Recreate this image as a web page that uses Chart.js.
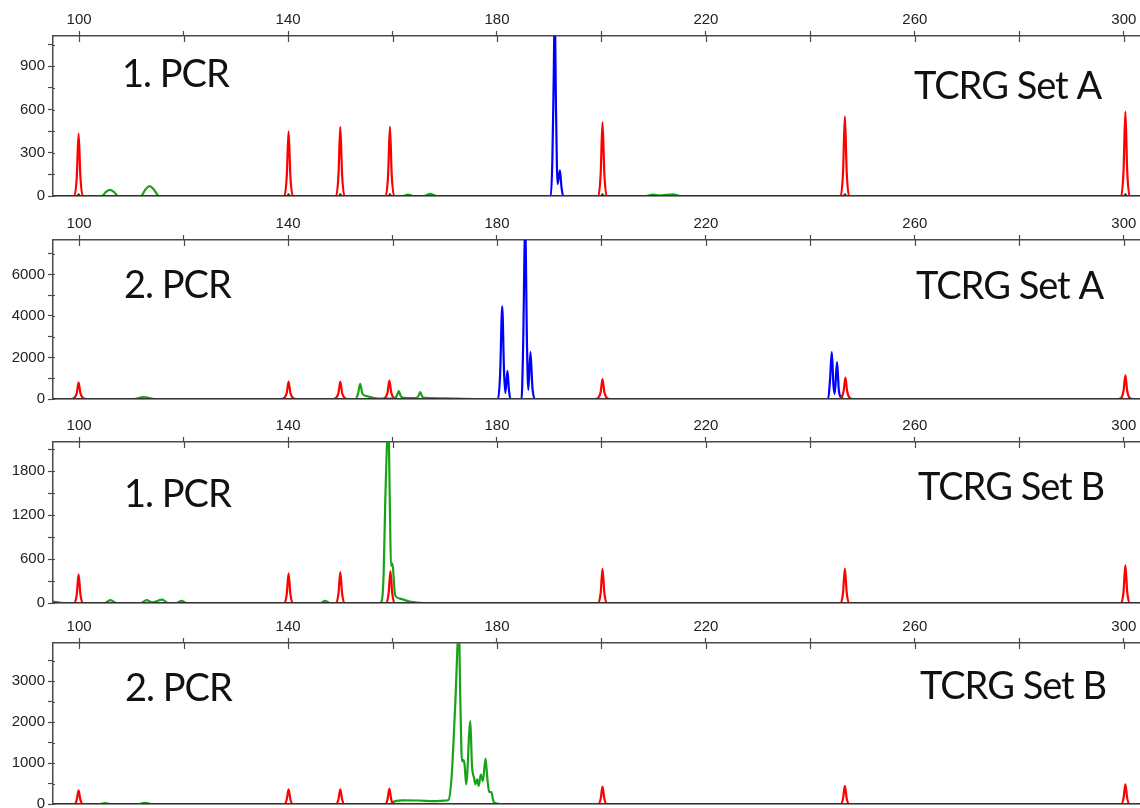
<!DOCTYPE html>
<html><head><meta charset="utf-8">
<script src="https://cdn.jsdelivr.net/npm/chart.js@4.4.1/dist/chart.umd.min.js"></script>
<style>
html,body{margin:0;padding:0;background:#fff;width:1140px;height:808px;overflow:hidden;}
.panel{position:absolute;left:0;width:1140px;}
canvas{display:block;}
</style></head><body>
<div class="panel" style="top:0px"><canvas id="c1" width="1140" height="208"></canvas></div>
<div class="panel" style="top:204px"><canvas id="c2" width="1140" height="207"></canvas></div>
<div class="panel" style="top:406px"><canvas id="c3" width="1140" height="209"></canvas></div>
<div class="panel" style="top:607px"><canvas id="c4" width="1140" height="209"></canvas></div>
<script>
// ---- tick labels ----
const xTickLabels = [100, 140, 180, 220, 260, 300];
const xRange = [95, 303.1];
const p1YLabels = [0, 300, 600, 900];
const p2YLabels = [0, 2000, 4000, 6000];
const p3YLabels = [0, 600, 1200, 1800];
const p4YLabels = [0, 1000, 2000, 3000];
const yMaxes = [1110, 7660, 2198, 3928];
const pcrTitles = ['1. PCR', '2. PCR', '1. PCR', '2. PCR'];
const setTitles = ['TCRG Set A', 'TCRG Set A', 'TCRG Set B', 'TCRG Set B'];

// ---- panel 1: 1. PCR, TCRG Set A ----
const p1Red = [[95,0],[99.1,0],[99.55,130],[99.9,433],[100.25,130],[100.7,0],
  [139.3,0],[139.75,135],[140.1,449],[140.45,135],[140.9,0],
  [149.2,0],[149.65,144],[150.0,479],[150.35,144],[150.8,0],
  [158.7,0],[159.15,144],[159.5,481],[159.85,144],[160.3,0],
  [199.4,0],[199.85,154],[200.2,513],[200.55,154],[201.0,0],
  [245.8,0],[246.25,166],[246.6,553],[246.95,166],[247.4,0],
  [299.5,0],[299.95,176],[300.3,585],[300.65,176],[301.1,0],[303.1,0]];
const p1Green = [[95,0],[104.3,0],[105.2,30],[105.9,43],[106.6,30],[107.5,0],
  [111.8,0],[112.7,45],[113.5,68],[114.3,45],[115.3,0],
  [162,0],[163,10],[164,0],[166,0],[167.2,15],[168.5,0],
  [208.5,0],[209.9,10],[211,3],[213.7,12],[215,0],[303.1,0]];
const p1Blue = [[95,0],[190.3,0],[190.6,250],[190.85,800],[191.05,1300],[191.3,600],[191.6,83],
  [192.05,178],[192.35,60],[192.7,0],[303.1,0]];
const p1Black = [[95,0],[99.6,0],[99.9,12],[100.2,0],[139.8,0],[140.1,12],[140.4,0],
  [149.7,0],[150.0,12],[150.3,0],[159.2,0],[159.5,12],[159.8,0],[199.9,0],[200.2,12],[200.5,0],
  [246.3,0],[246.6,12],[246.9,0],[300.0,0],[300.3,12],[300.6,0],[303.1,0]];

// ---- panel 2: 2. PCR, TCRG Set A ----
const p2Red = [[95,0],[98.4,0],[99.1,60],[99.55,280],[99.9,804],[100.25,280],[100.7,60],[101.4,0],
  [138.6,0],[139.3,60],[139.75,290],[140.1,837],[140.45,290],[140.9,60],[141.6,0],
  [148.5,0],[149.2,60],[149.65,290],[150.0,840],[150.35,290],[150.8,60],[151.5,0],
  [157.9,0],[158.6,60],[159.05,310],[159.4,884],[159.75,310],[160.2,60],[160.9,0],
  [198.7,0],[199.4,60],[199.85,335],[200.2,960],[200.55,335],[201.0,60],[201.7,0],
  [245.2,0],[245.9,60],[246.35,360],[246.7,1026],[247.05,360],[247.5,60],[248.2,0],
  [298.8,0],[299.5,60],[299.95,400],[300.3,1135],[300.65,400],[301.1,60],[301.8,0],[303.1,0]];
const p2Green = [[95,0],[110.5,0],[112.3,90],[114.5,0],
  [152.9,0],[153.4,260],[153.8,724],[154.2,280],[154.7,170],[155.5,110],[156.5,50],[158,20],
  [160.4,30],[160.8,140],[161.2,378],[161.6,130],[162.2,50],[164.5,40],[164.95,140],[165.3,331],
  [165.7,110],[166.5,50],[170,30],[176,0],[303.1,0]];
const p2Blue = [[95,0],[180.2,0],[180.6,1200],[181.0,4459],[181.35,1300],[181.6,284],[182.0,1357],
  [182.3,400],[182.6,0],[184.7,0],[185.0,2500],[185.4,8300],[185.75,2500],[186.0,440],[186.4,2255],
  [186.8,500],[187.3,0],[243.4,0],[243.75,900],[244.1,2255],[244.4,700],[244.65,250],[245.1,1780],
  [245.45,400],[245.9,80],[246.4,0],[303.1,0]];
const p2Black = [[95,0],[303.1,0]];

// ---- panel 3: 1. PCR, TCRG Set B ----
const p3Red = [[95,0],[99.1,0],[99.55,117],[99.9,390],[100.25,117],[100.7,0],
  [139.3,0],[139.75,121],[140.1,404],[140.45,121],[140.9,0],
  [149.2,0],[149.65,127],[150.0,422],[150.35,127],[150.8,0],
  [158.8,0],[159.25,131],[159.6,436],[159.95,131],[160.4,0],
  [199.4,0],[199.85,140],[200.2,467],[200.55,140],[201.0,0],
  [245.8,0],[246.25,141],[246.6,471],[246.95,141],[247.4,0],
  [299.5,0],[299.95,155],[300.3,517],[300.65,155],[301.1,0],[303.1,0]];
const p3Green = [[95,20],[97,0],[104.8,0],[106,40],[107.2,0],[111.8,0],[112.9,40],[114,10],
  [115.9,45],[117,0],[118.6,0],[119.6,30],[120.6,0],[146.2,0],[147.1,30],[148,0],
  [157.5,0],[157.9,20],[158.3,400],[158.6,1360],[159.2,2450],[159.5,1300],[159.7,507],[160.0,538],
  [160.3,250],[160.5,104],[161.4,60],[163.3,20],[166,0],[303.1,0]];
const p3Blue = [[95,0],[303.1,0]];
const p3Black = [[95,0],[303.1,0]];

// ---- panel 4: 2. PCR, TCRG Set B ----
const p4Red = [[95,0],[99.1,0],[99.55,100],[99.9,336],[100.25,100],[100.7,0],
  [139.3,0],[139.75,108],[140.1,360],[140.45,108],[140.9,0],
  [149.2,0],[149.65,108],[150.0,360],[150.35,108],[150.8,0],
  [158.6,0],[159.05,113],[159.4,376],[159.75,113],[160.2,0],
  [199.4,0],[199.85,128],[200.2,425],[200.55,128],[201.0,0],
  [245.8,0],[246.25,133],[246.6,442],[246.95,133],[247.4,0],
  [299.5,0],[299.95,144],[300.3,481],[300.65,144],[301.1,0],[303.1,0]];
const p4Green = [[95,0],[104,0],[105,20],[106,0],[111.5,0],[112.6,30],[113.8,0],
  [159.5,0],[160.5,70],[162,90],[165,85],[168,70],[170.0,80],[170.7,96],[171.3,640],[172.0,2400],
  [172.7,4300],[173.0,2400],[173.3,1040],[173.6,1070],[173.8,960],[174.1,480],[174.9,2020],
  [175.2,960],[175.6,640],[175.9,480],[176.2,600],[176.5,440],[176.9,720],[177.3,560],[177.8,1105],
  [178.2,560],[178.5,300],[178.9,290],[179.4,40],[180.6,0],[303.1,0]];
const p4Blue = [[95,0],[303.1,0]];
const p4Black = [[95,0],[303.1,0]];

// ---- styles ----
const RED = '#ff0000', GREEN = '#16a416', BLUE = '#0000ff', BLACK = '#333333';
const AXIS = '#4a4a4a';
const TICK_FONT = {family: '"Liberation Sans", Arial, sans-serif', size: 15};

const decor = {
  id: 'decor',
  beforeDatasetsDraw(chart, args, o) {
    const {ctx, chartArea: a} = chart;
    const y0 = chart.scales.y.getPixelForValue(0);
    ctx.save();
    ctx.strokeStyle = '#8c8c8c';
    ctx.lineWidth = 2;
    ctx.beginPath(); ctx.moveTo(a.left, y0); ctx.lineTo(a.right, y0); ctx.stroke();
    ctx.restore();
  },
  afterDraw(chart, args, o) {
    const {ctx, chartArea: a} = chart;
    const xs = chart.scales.x, ys = chart.scales.y;
    ctx.save();
    ctx.strokeStyle = AXIS; ctx.lineWidth = 1.2;
    xs.ticks.forEach(t => {
      const px = Math.round(xs.getPixelForValue(t.value)) + 0.5;
      ctx.beginPath(); ctx.moveTo(px, a.top); ctx.lineTo(px, a.top + 6); ctx.stroke();
    });
    ys.ticks.forEach(t => {
      const py = Math.round(ys.getPixelForValue(t.value)) + 0.5;
      ctx.beginPath(); ctx.moveTo(a.left, py); ctx.lineTo(a.left + 2, py); ctx.stroke();
    });
    ctx.fillStyle = '#111';
    ctx.font = '38px Lato';
    ctx.letterSpacing = '-1px';
    ctx.textBaseline = 'alphabetic';
    ctx.textAlign = 'left';
    ctx.fillText(o.pcr, o.pcrX, o.pcrY);
    ctx.fillText(o.set, o.setX, o.setY);
    ctx.restore();
  }
};

function makePanel(id, idx, red, green, blue, black, yLabels, textPos) {
  const yMax = yMaxes[idx];
  const yStep = (yLabels[1] - yLabels[0]) / 2;
  const xStep = (xTickLabels[1] - xTickLabels[0]) / 2;
  new Chart(document.getElementById(id), {
    type: 'line',
    data: {datasets: [
      {data: black, borderColor: BLACK, borderWidth: 1.8, order: 1},
      {data: red, borderColor: RED, order: 2},
      {data: blue, borderColor: BLUE, order: 3},
      {data: green, borderColor: GREEN, order: 4}
    ]},
    options: {
      responsive: false, animation: false, events: [],
      elements: {line: {borderWidth: 2.2, cubicInterpolationMode: 'monotone', fill: false}, point: {radius: 0}},
      layout: {padding: {top: 0, left: 0, right: 0, bottom: 9}},
      plugins: {legend: {display: false}, tooltip: {enabled: false},
        decor: {pcr: pcrTitles[idx], set: setTitles[idx], ...textPos}},
      scales: {
        x: {
          type: 'linear', position: 'top', min: xRange[0], max: xRange[1],
          afterFit: s => { s.height = 36; },
          afterBuildTicks: s => {
            const t = [];
            for (let v = xTickLabels[0]; v <= xTickLabels[xTickLabels.length - 1]; v += xStep) t.push({value: v});
            s.ticks = t;
          },
          ticks: {autoSkip: false, maxRotation: 0, padding: 2, color: '#222', font: TICK_FONT,
            callback: v => xTickLabels.includes(v) ? String(v) : ''},
          grid: {drawOnChartArea: false, drawTicks: true, tickLength: 5, tickColor: AXIS, tickWidth: 1.2},
          border: {color: AXIS, width: 1.5}
        },
        y: {
          type: 'linear', min: 0, max: yMax,
          afterFit: s => { s.width = 53; },
          afterBuildTicks: s => {
            const t = [];
            for (let v = 0; v <= yMax; v += yStep) t.push({value: v});
            s.ticks = t;
          },
          ticks: {autoSkip: false, padding: 3, color: '#222', font: TICK_FONT,
            callback: v => yLabels.includes(v) ? String(v) : ''},
          grid: {drawOnChartArea: false, drawTicks: true, tickLength: 5, tickColor: AXIS, tickWidth: 1.2},
          border: {color: AXIS, width: 1.5}
        }
      }
    },
    plugins: [decor]
  });
}

makePanel('c1', 0, p1Red, p1Green, p1Blue, p1Black, p1YLabels, {pcrX: 122, pcrY: 87, setX: 914, setY: 99});
makePanel('c2', 1, p2Red, p2Green, p2Blue, p2Black, p2YLabels, {pcrX: 124, pcrY: 94, setX: 916, setY: 95});
makePanel('c3', 2, p3Red, p3Green, p3Blue, p3Black, p3YLabels, {pcrX: 124, pcrY: 101, setX: 918, setY: 94});
makePanel('c4', 3, p4Red, p4Green, p4Blue, p4Black, p4YLabels, {pcrX: 125, pcrY: 94, setX: 920, setY: 92});
</script>
</body></html>
